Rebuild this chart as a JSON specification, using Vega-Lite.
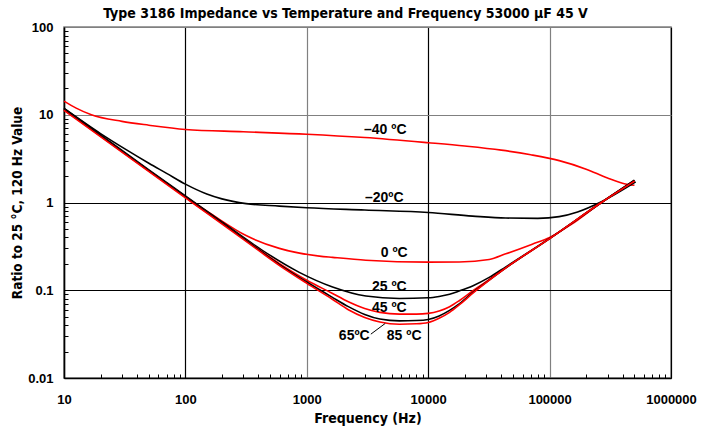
{
  "$schema": "https://vega.github.io/schema/vega-lite/v6.json",
  "width": 607,
  "height": 351,
  "autosize": {"type": "none"},
  "padding": {"left": 64, "top": 27, "right": 30, "bottom": 54},
  "background": "white",
  "title": {"text": "Type 3186 Impedance vs Temperature and Frequency  53000 µF 45 V", "font": "DejaVu Sans Condensed, Liberation Sans, sans-serif", "fontSize": 14, "fontWeight": "bold", "anchor": "middle", "dx": -22, "offset": 0, "color": "black"},
  "config": {"view": {"stroke": "#808080", "strokeWidth": 1.5}},
  "datasets": {
    "curves": [
      {"s": "-40", "f": 10, "z": 14.3}, {"s": "-40", "f": 12.6, "z": 11.9}, {"s": "-40", "f": 16.8, "z": 10}, {"s": "-40", "f": 30, "z": 8.4}, {"s": "-40", "f": 50, "z": 7.6}, {"s": "-40", "f": 100, "z": 6.8}, {"s": "-40", "f": 300, "z": 6.4}, {"s": "-40", "f": 1000, "z": 6.0}, {"s": "-40", "f": 3000, "z": 5.5}, {"s": "-40", "f": 10000, "z": 4.8}, {"s": "-40", "f": 20000, "z": 4.4}, {"s": "-40", "f": 40000, "z": 3.95}, {"s": "-40", "f": 70000, "z": 3.5}, {"s": "-40", "f": 120000, "z": 3.0}, {"s": "-40", "f": 200000, "z": 2.4}, {"s": "-40", "f": 300000, "z": 1.9}, {"s": "-40", "f": 405000, "z": 1.65}, {"s": "-40", "f": 500000, "z": 1.57},
      {"s": "-20", "f": 10, "z": 11.8}, {"s": "-20", "f": 20, "z": 6.1}, {"s": "-20", "f": 32.5, "z": 4.0}, {"s": "-20", "f": 50, "z": 2.8}, {"s": "-20", "f": 70, "z": 2.15}, {"s": "-20", "f": 100, "z": 1.62}, {"s": "-20", "f": 150, "z": 1.25}, {"s": "-20", "f": 200, "z": 1.1}, {"s": "-20", "f": 316, "z": 0.97}, {"s": "-20", "f": 594, "z": 0.91}, {"s": "-20", "f": 1000, "z": 0.87}, {"s": "-20", "f": 3000, "z": 0.82}, {"s": "-20", "f": 10000, "z": 0.77}, {"s": "-20", "f": 23200, "z": 0.70}, {"s": "-20", "f": 43600, "z": 0.665}, {"s": "-20", "f": 80000, "z": 0.66}, {"s": "-20", "f": 120000, "z": 0.69}, {"s": "-20", "f": 170000, "z": 0.78}, {"s": "-20", "f": 267000, "z": 1.02}, {"s": "-20", "f": 512000, "z": 1.72},
      {"s": "0", "f": 10, "z": 11.5}, {"s": "0", "f": 20, "z": 5.75}, {"s": "0", "f": 50, "z": 2.3}, {"s": "0", "f": 100, "z": 1.17}, {"s": "0", "f": 114, "z": 1.03}, {"s": "0", "f": 168, "z": 0.72}, {"s": "0", "f": 316, "z": 0.42}, {"s": "0", "f": 594, "z": 0.30}, {"s": "0", "f": 1270, "z": 0.245}, {"s": "0", "f": 1630, "z": 0.237}, {"s": "0", "f": 3070, "z": 0.22}, {"s": "0", "f": 10000, "z": 0.209}, {"s": "0", "f": 18000, "z": 0.21}, {"s": "0", "f": 31800, "z": 0.224}, {"s": "0", "f": 43600, "z": 0.26}, {"s": "0", "f": 72000, "z": 0.335}, {"s": "0", "f": 100000, "z": 0.40}, {"s": "0", "f": 150000, "z": 0.56}, {"s": "0", "f": 267000, "z": 1.0}, {"s": "0", "f": 500000, "z": 1.75},
      {"s": "25", "f": 10, "z": 11.8}, {"s": "25", "f": 20, "z": 5.9}, {"s": "25", "f": 50, "z": 2.36}, {"s": "25", "f": 100, "z": 1.19}, {"s": "25", "f": 200, "z": 0.6}, {"s": "25", "f": 430, "z": 0.285}, {"s": "25", "f": 867, "z": 0.16}, {"s": "25", "f": 1630, "z": 0.109}, {"s": "25", "f": 3070, "z": 0.086}, {"s": "25", "f": 5770, "z": 0.0806}, {"s": "25", "f": 10000, "z": 0.082}, {"s": "25", "f": 12300, "z": 0.085}, {"s": "25", "f": 15000, "z": 0.09}, {"s": "25", "f": 18000, "z": 0.098}, {"s": "25", "f": 23200, "z": 0.112}, {"s": "25", "f": 31800, "z": 0.14}, {"s": "25", "f": 43600, "z": 0.185}, {"s": "25", "f": 100000, "z": 0.39}, {"s": "25", "f": 267000, "z": 1.0}, {"s": "25", "f": 500000, "z": 1.78},
      {"s": "45", "f": 10, "z": 11.4}, {"s": "45", "f": 100, "z": 1.15}, {"s": "45", "f": 300, "z": 0.39}, {"s": "45", "f": 600, "z": 0.2}, {"s": "45", "f": 1000, "z": 0.13}, {"s": "45", "f": 1600, "z": 0.093}, {"s": "45", "f": 2200, "z": 0.074}, {"s": "45", "f": 3000, "z": 0.062}, {"s": "45", "f": 4000, "z": 0.056}, {"s": "45", "f": 5800, "z": 0.0534}, {"s": "45", "f": 8000, "z": 0.0535}, {"s": "45", "f": 10000, "z": 0.0545}, {"s": "45", "f": 12300, "z": 0.058}, {"s": "45", "f": 15000, "z": 0.065}, {"s": "45", "f": 18000, "z": 0.076}, {"s": "45", "f": 23200, "z": 0.098}, {"s": "45", "f": 30000, "z": 0.125}, {"s": "45", "f": 43600, "z": 0.18}, {"s": "45", "f": 100000, "z": 0.388}, {"s": "45", "f": 267000, "z": 1.0}, {"s": "45", "f": 500000, "z": 1.78},
      {"s": "65", "f": 10, "z": 11.5}, {"s": "65", "f": 100, "z": 1.16}, {"s": "65", "f": 300, "z": 0.39}, {"s": "65", "f": 600, "z": 0.195}, {"s": "65", "f": 1000, "z": 0.124}, {"s": "65", "f": 1600, "z": 0.084}, {"s": "65", "f": 2200, "z": 0.065}, {"s": "65", "f": 3000, "z": 0.053}, {"s": "65", "f": 4000, "z": 0.047}, {"s": "65", "f": 5800, "z": 0.0448}, {"s": "65", "f": 8000, "z": 0.0452}, {"s": "65", "f": 10000, "z": 0.0465}, {"s": "65", "f": 12300, "z": 0.051}, {"s": "65", "f": 15000, "z": 0.059}, {"s": "65", "f": 18000, "z": 0.07}, {"s": "65", "f": 23200, "z": 0.094}, {"s": "65", "f": 30000, "z": 0.123}, {"s": "65", "f": 43600, "z": 0.18}, {"s": "65", "f": 100000, "z": 0.388}, {"s": "65", "f": 267000, "z": 1.0}, {"s": "65", "f": 500000, "z": 1.8},
      {"s": "85", "f": 10, "z": 11.2}, {"s": "85", "f": 100, "z": 1.13}, {"s": "85", "f": 300, "z": 0.38}, {"s": "85", "f": 600, "z": 0.19}, {"s": "85", "f": 1000, "z": 0.12}, {"s": "85", "f": 1600, "z": 0.08}, {"s": "85", "f": 2200, "z": 0.06}, {"s": "85", "f": 3000, "z": 0.049}, {"s": "85", "f": 4000, "z": 0.0435}, {"s": "85", "f": 5800, "z": 0.041}, {"s": "85", "f": 8000, "z": 0.0415}, {"s": "85", "f": 10000, "z": 0.043}, {"s": "85", "f": 12300, "z": 0.048}, {"s": "85", "f": 15000, "z": 0.056}, {"s": "85", "f": 18000, "z": 0.068}, {"s": "85", "f": 23200, "z": 0.092}, {"s": "85", "f": 30000, "z": 0.122}, {"s": "85", "f": 43600, "z": 0.18}, {"s": "85", "f": 100000, "z": 0.388}, {"s": "85", "f": 267000, "z": 1.0}, {"s": "85", "f": 500000, "z": 1.75}
    ],
    "labels": [
      {"t": "–40 ºC", "f": 4430, "z": 6.66},
      {"t": "–20ºC", "f": 4350, "z": 1.12},
      {"t": "0 ºC", "f": 5250, "z": 0.267},
      {"t": "25 ºC", "f": 4780, "z": 0.108},
      {"t": "45 ºC", "f": 4780, "z": 0.063},
      {"t": "65ºC", "f": 2460, "z": 0.030},
      {"t": "85 ºC", "f": 6340, "z": 0.030}
    ],
    "leader": [
      {"f": 3370, "z": 0.0316, "f2": 4430, "z2": 0.0419}
    ]
  },
  "layer": [
    {
      "data": {"name": "curves"},
      "mark": {"type": "line", "interpolate": "monotone", "strokeWidth": 1.6},
      "encoding": {
        "x": {"field": "f", "type": "quantitative", "scale": {"type": "log", "domain": [10, 1000000]},
          "axis": {"orient": "bottom", "values": [10, 100, 1000, 10000, 100000, 1000000], "format": "d", "title": "Frequency (Hz)",
            "titleFont": "DejaVu Sans Condensed, Liberation Sans, sans-serif", "titleFontSize": 14, "titleFontWeight": "bold", "titleColor": "black", "titlePadding": 5,
            "labelFont": "Liberation Sans", "labelFontSize": 13, "labelFontWeight": "bold", "labelColor": "black", "labelPadding": 15, "labelFlush": false,
            "ticks": false, "grid": true, "gridColor": {"condition": {"test": "datum.value == 1000 || datum.value == 100000", "value": "#808080"}, "value": "#000000"}, "gridWidth": 1.2, "gridOpacity": 1,
            "domainColor": "black", "domainWidth": 1.5}},
        "y": {"field": "z", "type": "quantitative", "scale": {"type": "log", "domain": [0.01, 100]},
          "axis": {"orient": "left", "values": [0.01, 0.1, 1, 10, 100], "format": ".2~f", "title": "Ratio to 25 °C, 120 Hz Value",
            "titleFont": "DejaVu Sans Condensed, Liberation Sans, sans-serif", "titleFontSize": 13.5, "titleFontWeight": "bold", "titleColor": "black", "titlePadding": 3,
            "labelFont": "Liberation Sans", "labelFontSize": 13, "labelFontWeight": "bold", "labelColor": "black", "labelPadding": 11, "labelFlush": false,
            "ticks": false, "grid": true, "gridColor": {"condition": {"test": "datum.value == 10 || datum.value == 100", "value": "#808080"}, "value": "#000000"}, "gridWidth": 1.2, "gridOpacity": 1,
            "domainColor": "black", "domainWidth": 1.5}},
        "color": {"field": "s", "type": "nominal", "scale": {"domain": ["-40", "-20", "0", "25", "45", "65", "85"], "range": ["#ff0000", "#000000", "#ff0000", "#000000", "#ff0000", "#000000", "#ff0000"]}, "legend": null}
      }
    },
    {
      "data": {"name": "labels"},
      "mark": {"type": "text", "font": "Liberation Sans", "fontSize": 14, "fontWeight": "bold", "color": "black", "align": "center", "baseline": "middle"},
      "encoding": {
        "x": {"field": "f", "type": "quantitative", "scale": {"type": "log", "domain": [10, 1000000]},
          "axis": {"orient": "bottom", "values": [20, 30, 40, 50, 60, 70, 80, 90, 200, 300, 400, 500, 600, 700, 800, 900, 2000, 3000, 4000, 5000, 6000, 7000, 8000, 9000, 20000, 30000, 40000, 50000, 60000, 70000, 80000, 90000, 200000, 300000, 400000, 500000, 600000, 700000, 800000, 900000],
            "labels": false, "title": null, "grid": false, "domain": false, "ticks": true, "tickSize": -4, "tickColor": "black", "tickWidth": 1}},
        "y": {"field": "z", "type": "quantitative", "scale": {"type": "log", "domain": [0.01, 100]},
          "axis": {"orient": "left", "values": [0.02, 0.03, 0.04, 0.05, 0.06, 0.07, 0.08, 0.09, 0.2, 0.3, 0.4, 0.5, 0.6, 0.7, 0.8, 0.9, 2, 3, 4, 5, 6, 7, 8, 9, 20, 30, 40, 50, 60, 70, 80, 90],
            "labels": false, "title": null, "grid": false, "domain": false, "ticks": true, "tickSize": -4, "tickColor": "black", "tickWidth": 1}},
        "text": {"field": "t", "type": "nominal"}
      }
    },
    {
      "data": {"name": "leader"},
      "mark": {"type": "rule", "color": "black", "strokeWidth": 1},
      "encoding": {
        "x": {"field": "f", "type": "quantitative", "scale": {"type": "log", "domain": [10, 1000000]}, "axis": null},
        "y": {"field": "z", "type": "quantitative", "scale": {"type": "log", "domain": [0.01, 100]}, "axis": null},
        "x2": {"field": "f2"},
        "y2": {"field": "z2"}
      }
    }
  ],
  "resolve": {"axis": {"x": "independent", "y": "independent"}}
}
